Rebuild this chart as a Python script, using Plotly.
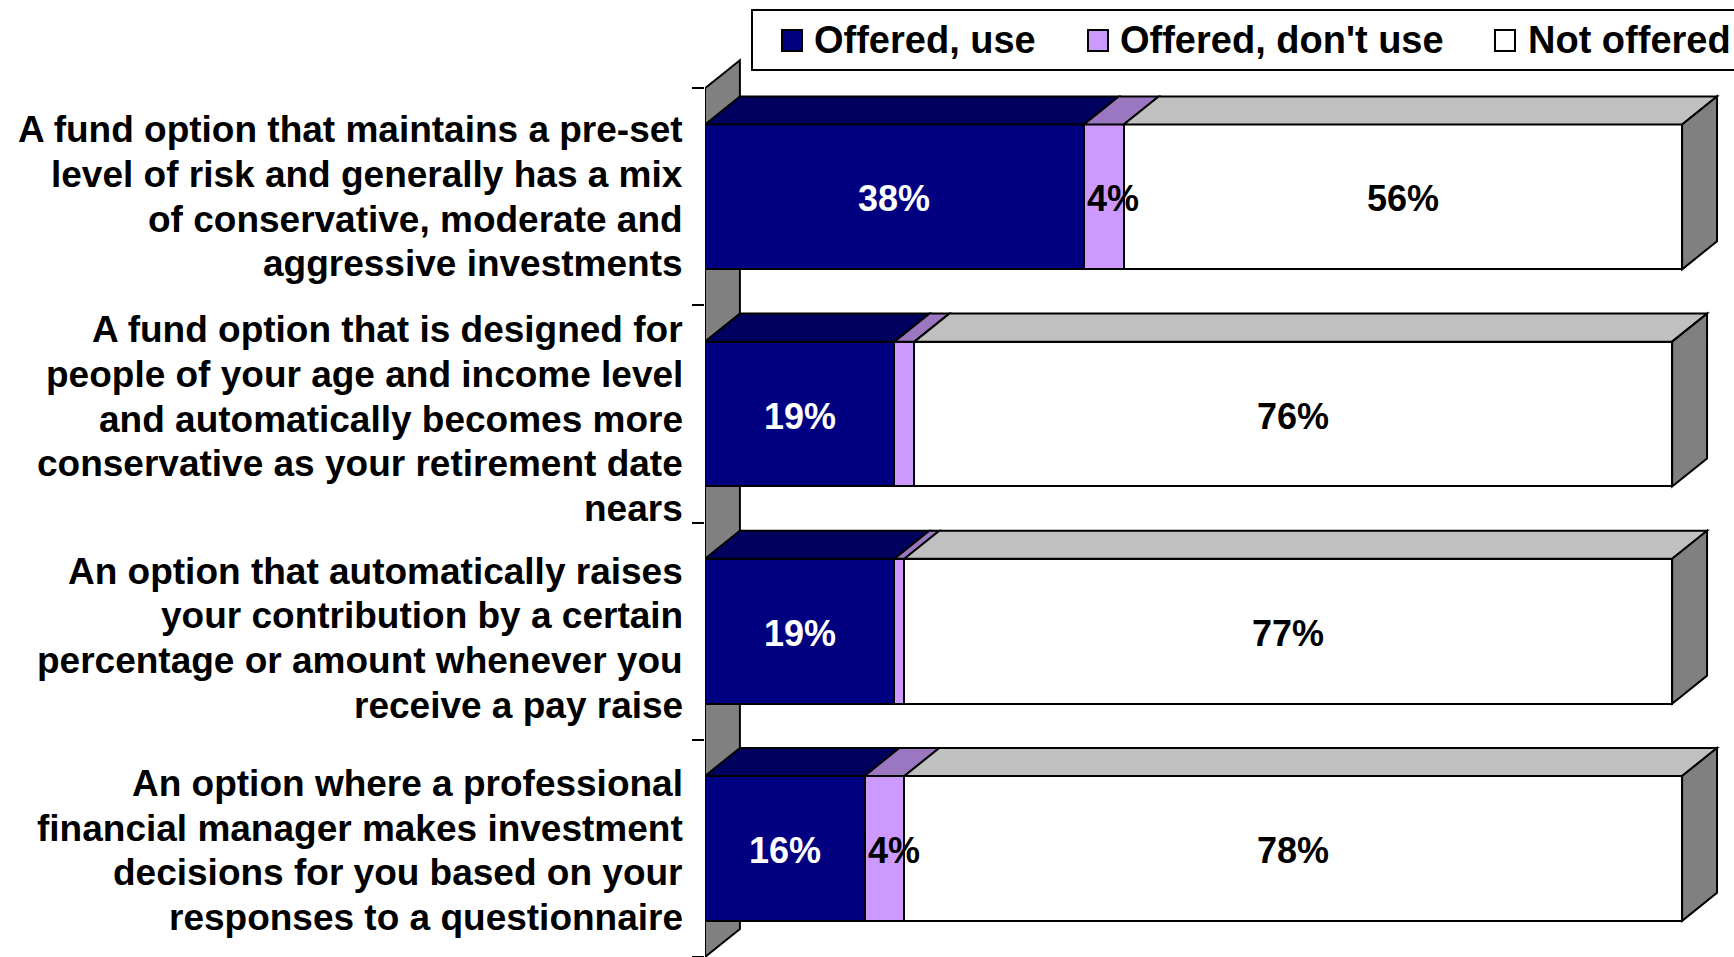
import plotly.graph_objects as go

# Survey responses: share of participants per plan feature (percent)
categories = [
    "A fund option that maintains a pre-set<br>level of risk and generally has a mix<br>of conservative, moderate and<br>aggressive investments",
    "A fund option that is designed for<br>people of your age and income level<br>and automatically becomes more<br>conservative as your retirement date<br>nears",
    "An option that automatically raises<br>your contribution by a certain<br>percentage or amount whenever you<br>receive a pay raise",
    "An option where a professional<br>financial manager makes investment<br>decisions for you based on your<br>responses to a questionnaire",
]
series_names = ["Offered, use", "Offered, don't use", "Not offered"]
offered_use = [38, 19, 19, 16]
offered_dont_use = [4, 2, 1, 4]
not_offered = [56, 76, 77, 78]

series_values = [offered_use, offered_dont_use, not_offered]
front_colors = ["#000080", "#CC99FF", "#FFFFFF"]
top_colors = ["#00005E", "#9B77C2", "#C0C0C0"]
label_colors = ["white", "black", "black"]
SIDE_GRAY = "#808080"

FONT = "Liberation Sans, Arial, Helvetica, sans-serif"
W, H = 1734, 957
ML, MR, MT, MB = 705, 7, 34, 0
X_RANGE = [0, 102.5]
Y_RANGE = [3.5, -0.75]
BAR_W = 0.667
DEPTH_X = 3.5      # extrusion depth along the value axis
DEPTH_Y = 0.129    # extrusion depth along the category axis
LINE_PITCH = 44.6  # px between label lines
LABEL_NUDGE = [0, -5, -7, -2]  # px vertical nudge of each category label block


def px_x(p):
    return (p - ML) / (W - ML - MR)


def px_y(p):
    return (H - MB - p) / (H - MT - MB)


ypos = list(range(len(categories)))
fig = go.Figure()

# front faces of the stacked bars
for name, vals, col in zip(series_names, series_values, front_colors):
    fig.add_trace(go.Bar(
        y=ypos, x=vals, name=name, orientation="h", width=BAR_W,
        marker=dict(color=col, line=dict(color="black", width=2)),
        hoverinfo="skip", showlegend=False,
    ))

shapes = []
# left side wall
shapes.append(dict(
    type="path", xref="x", yref="y", layer="below",
    path=(f"M 0 {Y_RANGE[0]} L 0 -0.5 L {DEPTH_X} {-0.5 - DEPTH_Y} "
          f"L {DEPTH_X} {Y_RANGE[0] - DEPTH_Y} Z"),
    fillcolor=SIDE_GRAY, line=dict(color="black", width=2),
))

annotations = []
for i in ypos:
    top = i - BAR_W / 2
    bot = i + BAR_W / 2
    base = 0
    for s, vals in enumerate(series_values):
        v = vals[i]
        x0, x1 = base, base + v
        # top face of the segment
        shapes.append(dict(
            type="path", xref="x", yref="y", layer="above",
            path=(f"M {x0} {top} L {x1} {top} L {x1 + DEPTH_X} {top - DEPTH_Y} "
                  f"L {x0 + DEPTH_X} {top - DEPTH_Y} Z"),
            fillcolor=top_colors[s], line=dict(color="black", width=2),
        ))
        if v >= 3:
            narrow = v < 6
            annotations.append(dict(
                x=base if narrow else base + v / 2, y=i, xref="x", yref="y",
                text=f"{v}%", showarrow=False,
                xanchor="left" if narrow else "center", yanchor="middle",
                xshift=1 if narrow else 0, yshift=-2,
                font=dict(family=FONT, size=36, color=label_colors[s], weight="bold"),
            ))
        base = x1
    # right end face of the bar
    shapes.append(dict(
        type="path", xref="x", yref="y", layer="above",
        path=(f"M {base} {top} L {base + DEPTH_X} {top - DEPTH_Y} "
              f"L {base + DEPTH_X} {bot - DEPTH_Y} L {base} {bot} Z"),
        fillcolor=SIDE_GRAY, line=dict(color="black", width=2),
    ))
    # category label, one annotation per line
    lines = categories[i].split("<br>")
    n = len(lines)
    for k, ln in enumerate(lines):
        annotations.append(dict(
            x=0, y=i, xref="paper", yref="y", text=ln, showarrow=False,
            xanchor="right", yanchor="middle", xshift=-20,
            yshift=-(k - (n - 1) / 2) * LINE_PITCH + LABEL_NUDGE[i],
            font=dict(family=FONT, size=37, color="black", weight="bold"),
        ))

# legend box
shapes.append(dict(
    type="rect", xref="paper", yref="paper",
    x0=px_x(752), x1=px_x(1745), y0=px_y(70), y1=px_y(10),
    fillcolor="white", line=dict(color="black", width=2), layer="above",
))
legend_marks = [782, 1088, 1495]
legend_text = [812, 1118, 1526]
for name, col, mx, tx in zip(series_names, front_colors, legend_marks, legend_text):
    shapes.append(dict(
        type="rect", xref="paper", yref="paper",
        x0=px_x(mx), x1=px_x(mx + 20), y0=px_y(51), y1=px_y(30),
        fillcolor=col, line=dict(color="black", width=2), layer="above",
    ))
    annotations.append(dict(
        x=px_x(tx), y=px_y(40.5), xref="paper", yref="paper", text=name,
        showarrow=False, xanchor="left", yanchor="middle",
        font=dict(family=FONT, size=38, color="black", weight="bold"),
    ))

fig.update_layout(
    width=W, height=H, barmode="stack",
    margin=dict(l=ML, r=MR, t=MT, b=MB, pad=0),
    paper_bgcolor="white", plot_bgcolor="white",
    showlegend=False, bargap=0,
    shapes=shapes, annotations=annotations,
    xaxis=dict(range=X_RANGE, visible=False, fixedrange=True),
    yaxis=dict(
        range=Y_RANGE, showgrid=False, zeroline=False, showline=False,
        tickmode="array", tickvals=[-0.5, 0.5, 1.5, 2.5, 3.5],
        ticktext=["", "", "", "", ""], ticks="outside", ticklen=12,
        tickwidth=2, tickcolor="black", fixedrange=True,
    ),
)

fig.write_html("out.html")
